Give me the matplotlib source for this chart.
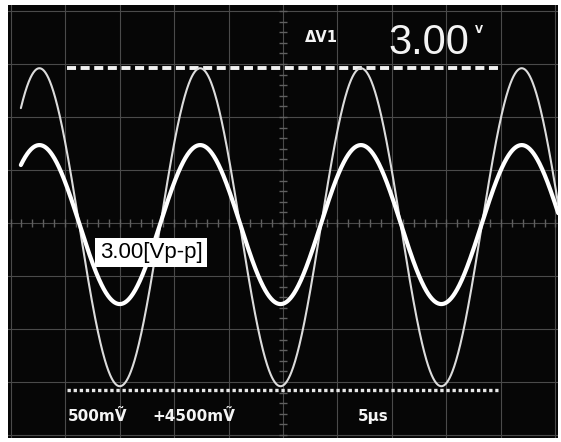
import numpy as np
import matplotlib.pyplot as plt

plt.rcParams['lines.scale_dashes'] = False

# readings off the screen, in graticule divisions (5 us/div, 500 mV/div)
trace_amp = [3.0, 1.5]          # peak amplitude, div
trace_offset = [-0.08, -0.03]   # dc offset, div
trace_width = [1.5, 3.0]
trace_color = ['#dcdcdc', '#ffffff']
period_div = 2.95
first_peak_div = -4.47
trace_start, trace_end = -4.81, 5.05

cursor_y = [2.93, -3.16]        # dV1 cursors
cursor_x = [-3.97, 3.94]

readout_dv = "ΔV1"
readout_val = "3.00"
readout_unit = "V"
ch1_label = "500mṼ"
ch2_label = "+4500mṼ"
timebase = "5μs"
box_label = "3.00[Vp-p]"

fig = plt.figure(figsize=(5.61, 4.42), dpi=100, facecolor='white')
ax = fig.add_axes([8/561, 4/442, 550/561, 433/442])
ax.set_facecolor('#060606')
ax.set_xlim(-5.046, 5.046)
ax.set_ylim(-4.057, 4.113)
ax.set_xticks([])
ax.set_yticks([])
for s in ax.spines.values():
    s.set_visible(False)

# graticule
grid_c = '#4a4a4a'
for gx in np.arange(-5, 6):
    ax.axvline(gx, color=grid_c, lw=0.8, zorder=1)
for gy in np.arange(-4, 5):
    ax.axhline(gy, color=grid_c, lw=0.8, zorder=1)
minor = np.arange(-5, 5.01, 0.2)
ax.vlines(minor, -0.07, 0.07, color='#606060', lw=1.0, zorder=1)
minor_y = np.arange(-4, 4.01, 0.2)
ax.hlines(minor_y, -0.07, 0.07, color='#606060', lw=1.0, zorder=1)

# cursors
ax.plot(cursor_x, [cursor_y[0]] * 2, color='#f2f2f2', lw=2.8,
        linestyle=(0, (6.5, 3.3)), solid_capstyle='butt', dash_capstyle='butt', zorder=3)
ax.plot(cursor_x, [cursor_y[1]] * 2, color='#e8e8e8', lw=2.4,
        linestyle=(0, (2.4, 2.0)), dash_capstyle='butt', zorder=3)

# traces
t = np.linspace(trace_start, trace_end, 1500)
for a, off, w, c in zip(trace_amp, trace_offset, trace_width, trace_color):
    y = off + a * np.cos(2 * np.pi * (t - first_peak_div) / period_div)
    ax.plot(t, y, color=c, lw=w, solid_capstyle='round', zorder=4)

# on-screen readouts
txt = dict(color='#f4f4f4', fontweight='bold', family='DejaVu Sans', zorder=5)
ax.text(0.40, 3.42, readout_dv, fontsize=10.5, va='baseline', **txt)
ax.text(1.93, 3.19, readout_val, fontsize=30, va='baseline', color='#f4f4f4',
        family='Liberation Sans', zorder=5)
ax.text(3.52, 3.74, readout_unit, fontsize=7.5, va='top', **txt)
ax.text(-3.94, -3.74, ch1_label, fontsize=11, va='baseline', **txt)
ax.text(-2.40, -3.74, ch2_label, fontsize=11, va='baseline', **txt)
ax.text(1.38, -3.74, timebase, fontsize=11, va='baseline', **txt)

ax.text(-3.36, -0.66, box_label, fontsize=16, family='Liberation Sans', color='black',
        va='baseline', zorder=6,
        bbox=dict(boxstyle='square,pad=0.2', facecolor='white', edgecolor='none'))

fig.savefig('out.png', dpi=100, facecolor='white')
